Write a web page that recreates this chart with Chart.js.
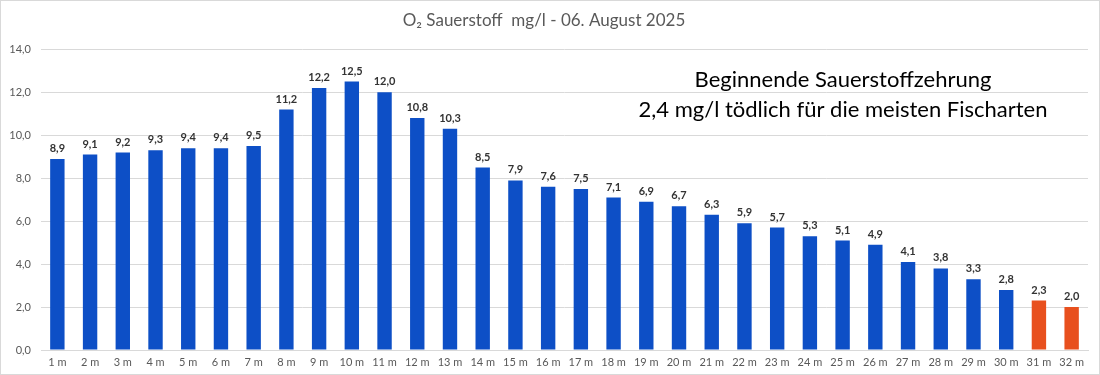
<!DOCTYPE html>
<html>
<head>
<meta charset="utf-8">
<script src="https://cdn.jsdelivr.net/npm/chart.js@4.4.0/dist/chart.umd.min.js"></script>
<style>
  body { margin: 0; background: #fff; }
  #wrap { width: 1100px; height: 375px; }
</style>
</head>
<body>
<div id="wrap"><canvas id="o2Chart"></canvas></div>
<script>
// Tiefen und Sauerstoffwerte
const depths = ['1 m', '2 m', '3 m', '4 m', '5 m', '6 m', '7 m', '8 m', '9 m', '10 m', '11 m', '12 m', '13 m', '14 m', '15 m', '16 m',
    '17 m', '18 m', '19 m', '20 m', '21 m', '22 m', '23 m', '24 m', '25 m', '26 m', '27 m', '28 m', '29 m', '30 m', '31 m', '32 m'];
const oxygen = [8.9, 9.1, 9.2, 9.3, 9.4, 9.4, 9.5, 11.2, 12.2, 12.5, 12.0, 10.8, 10.3, 8.5, 7.9, 7.6,
    7.5, 7.1, 6.9, 6.7, 6.3, 5.9, 5.7, 5.3, 5.1, 4.9, 4.1, 3.8, 3.3, 2.8, 2.3, 2.0];
const criticalLimit = 2.4;
const yTicks = [0, 2, 4, 6, 8, 10, 12, 14];
const noteLines = ['Beginnende Sauerstoffzehrung', '2,4 mg/l tödlich für die meisten Fischarten'];

const blue = '#0d4fc6';
const red = '#e8501e';
const fmt = v => v.toFixed(1).replace('.', ',');

const extras = {
    id: 'extras',
    afterDatasetsDraw(chart) {
        const ctx = chart.ctx;
        const meta = chart.getDatasetMeta(0);
        ctx.save();
        ctx.font = 'bold 11px Lato';
        ctx.fillStyle = '#333';
        ctx.textAlign = 'center';
        ctx.textBaseline = 'bottom';
        meta.data.forEach((bar, i) => {
            ctx.fillText(fmt(oxygen[i]), bar.x, bar.y - 5);
        });
        // Hinweistext
        ctx.font = '22px Lato';
        ctx.fillStyle = '#000';
        ctx.textBaseline = 'middle';
        ctx.fillText(noteLines[0], 843, 80);
        ctx.fillText(noteLines[1], 843, 110);
        // Rahmen
        ctx.strokeStyle = '#d9d9d9';
        ctx.lineWidth = 1;
        ctx.strokeRect(0.5, 0.5, chart.width - 1, chart.height - 1);
        ctx.restore();
    }
};

new Chart(document.querySelector('#o2Chart'), {
    type: 'bar',
    data: {
        labels: depths,
        datasets: [{
            label: 'O₂',
            data: oxygen,
            backgroundColor: oxygen.map(v => v < criticalLimit ? red : blue),
            barPercentage: 0.44,
            categoryPercentage: 1,
        }],
    },
    options: {
        responsive: true,
        maintainAspectRatio: false,
        animation: false,
        layout: { padding: { top: 0, right: 12, bottom: 0, left: 0 } },
        plugins: {
            legend: { display: false },
            tooltip: { enabled: false },
            title: {
                display: true,
                text: 'O₂ Sauerstoff  mg/l - 06. August 2025',
                color: '#595959',
                font: { family: 'Lato', size: 17, weight: 'normal' },
                padding: { top: 10, bottom: 19 },
            },
        },
        scales: {
            x: {
                afterFit(scale) { scale.height = 25; },
                grid: { display: false, drawTicks: false },
                border: { color: '#d9d9d9' },
                ticks: { color: '#595959', font: { family: 'Lato', size: 11 }, maxRotation: 0, autoSkip: false, padding: 6 },
            },
            y: {
                min: 0,
                max: 14,
                afterBuildTicks(scale) { scale.ticks = yTicks.map(v => ({ value: v })); },
                afterFit(scale) { scale.width = 41; },
                grid: { color: '#d9d9d9', drawTicks: false },
                border: { display: false },
                ticks: { color: '#595959', font: { family: 'Lato', size: 11 }, padding: 10, callback: v => fmt(v) },
            },
        },
    },
    plugins: [extras],
});
</script>
</body>
</html>
